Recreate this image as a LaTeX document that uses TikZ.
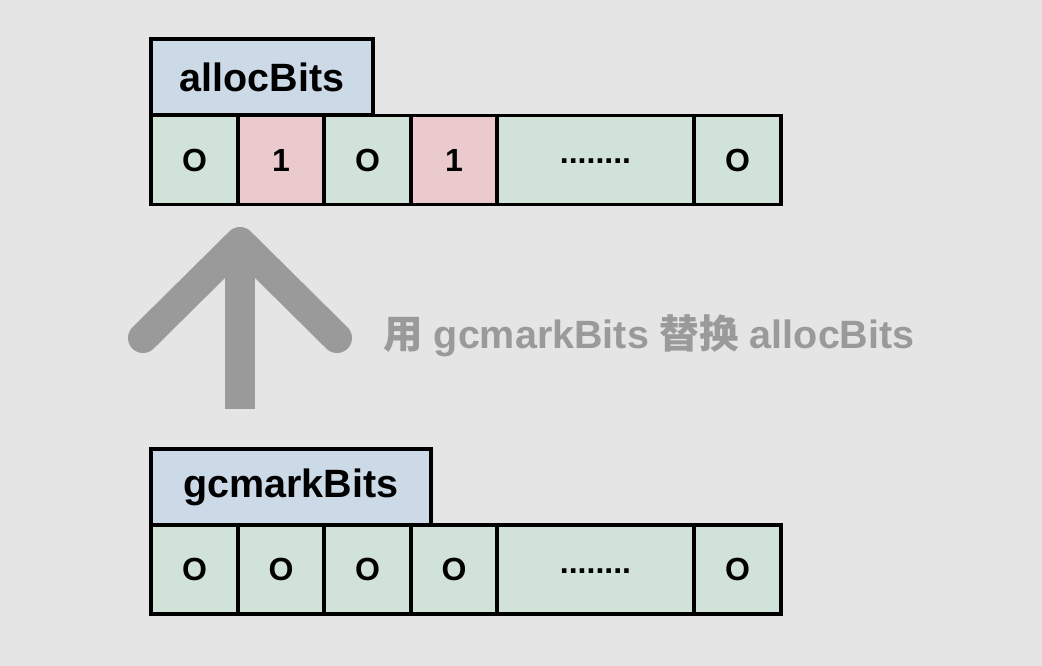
\documentclass[tikz,border=0pt]{standalone}
\usepackage{fontspec}
\setmainfont{Liberation Sans}
\newfontfamily\cjk{Noto Sans CJK SC}
\definecolor{bg}{HTML}{E5E5E5}
\definecolor{lblue}{HTML}{CCD9E6}
\definecolor{lgreen}{HTML}{D1E2D9}
\definecolor{lpink}{HTML}{EACACC}
\definecolor{arrowgray}{HTML}{9A9A9A}
\tikzset{
  cell/.style={draw=black, line width=3.5pt, inner sep=0pt, minimum height=89pt,
    font=\fontsize{32}{36}\selectfont\bfseries},
  zcell/.style={cell, fill=lgreen},
  ocell/.style={cell, fill=lpink},
  dotcell/.style={zcell, text height=0pt, text depth=0pt},
  label box/.style={draw=black, line width=3.5pt, fill=lblue, inner sep=0pt, minimum height=76pt,
    font=\fontsize{39.5}{44}\selectfont\bfseries},
  bigarrow/.style={draw=arrowgray, line width=30pt},
  caption/.style={text=arrowgray, font=\fontsize{39.5}{44}\selectfont\bfseries}
}
\begin{document}
\begin{tikzpicture}[x=1pt, y=-1pt]
\fill[bg] (0,0) rectangle (1042,666);
\useasboundingbox (0,0) rectangle (1042,666);
% top
\node[label box, minimum width=222pt] (alab) at (262,77) {allocBits};
\node[zcell, minimum width=87pt] (a1) at (194.5,160) {O};
\node[ocell, minimum width=86pt] (a2) at (281,160) {1};
\node[zcell, minimum width=87pt] (a3) at (367.5,160) {O};
\node[ocell, minimum width=86pt] (a4) at (454,160) {1};
\node[dotcell, minimum width=197pt] (a5) at (595.5,160) {\raisebox{-3.5pt}{........}};
\node[zcell, minimum width=87pt] (a6) at (737.5,160) {O};
% bottom
\node[label box, minimum width=280pt] (glab) at (291,487) {gcmarkBits};
\node[zcell, minimum width=87pt] (g1) at (194.5,569.5) {O};
\node[zcell, minimum width=86pt] (g2) at (281,569.5) {O};
\node[zcell, minimum width=87pt] (g3) at (367.5,569.5) {O};
\node[zcell, minimum width=86pt] (g4) at (454,569.5) {O};
\node[dotcell, minimum width=197pt] (g5) at (595.5,569.5) {\raisebox{-3.5pt}{........}};
\node[zcell, minimum width=87pt] (g6) at (737.5,569.5) {O};
% arrow
\coordinate (tail) at (240,409);
\coordinate (tip) at (240,242);
\coordinate (wl) at (143,338);
\coordinate (wr) at (337,338);
\draw[bigarrow] (tail) -- (tip);
\draw[bigarrow, line cap=round, line join=round] (wl) -- (tip) -- (wr);
\node[caption] (cap) at (649,336) {{\cjk 用} gcmarkBits {\cjk 替换} allocBits};
\end{tikzpicture}
\end{document}
